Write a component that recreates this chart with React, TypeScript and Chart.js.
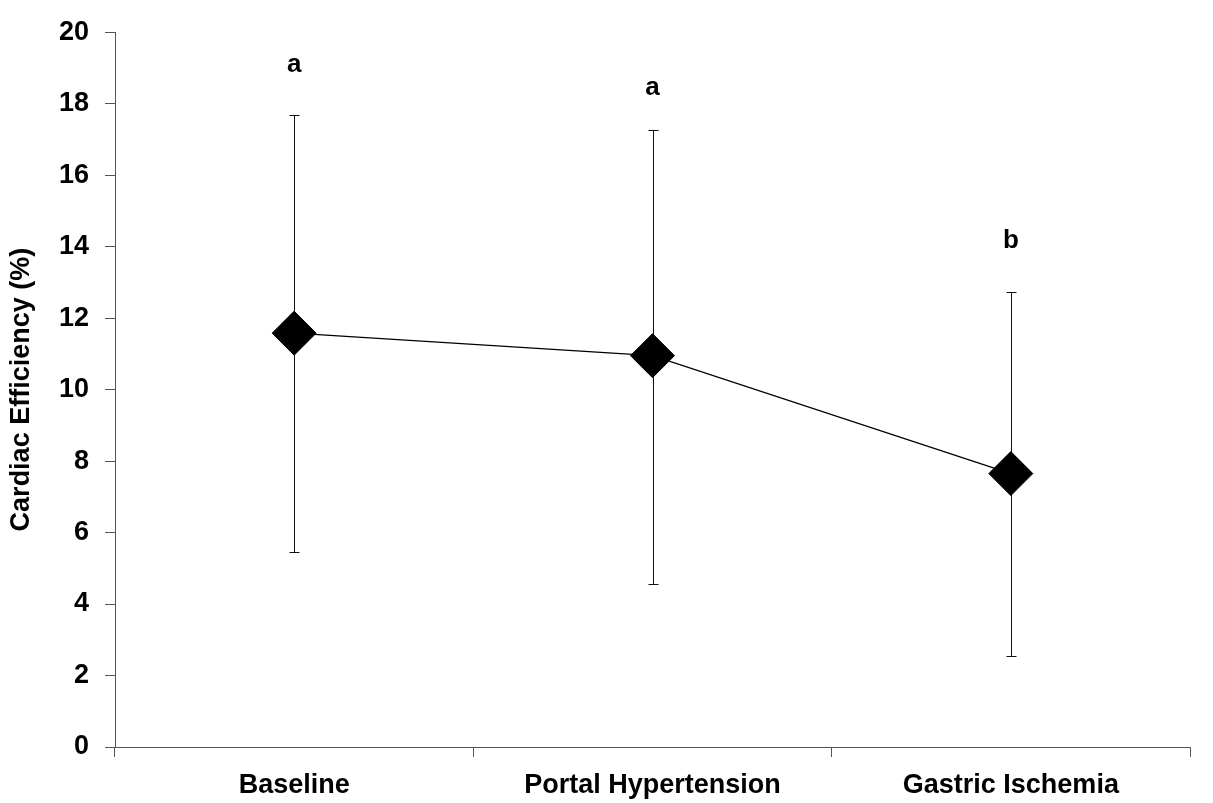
import { useEffect, useRef } from "react";
import { Chart, registerables } from "chart.js";

Chart.register(...registerables);

const categories = ["Baseline", "Portal Hypertension", "Gastric Ischemia"];
const meanValues = [11.58, 10.95, 7.65];
const upperValues = [17.67, 17.25, 12.72];
const lowerValues = [5.47, 4.56, 2.56];
const sigLetters = ["a", "a", "b"];
const sigLetterValues = [19.1, 18.45, 14.15];
const yAxisTitle = "Cardiac Efficiency (%)";

const FONT = '"Liberation Sans", Arial, Helvetica, sans-serif';

const errorBarPlugin = {
  id: "errorBarsAndLetters",
  beforeDatasetsDraw(chart: any) {
    const { ctx, scales } = chart;
    const x = scales.x;
    const y = scales.y;
    ctx.save();
    ctx.strokeStyle = "#111";
    ctx.lineWidth = 1;
    categories.forEach((_, i) => {
      const px = Math.round(x.getPixelForValue(i)) + 0.5;
      const top = Math.round(y.getPixelForValue(upperValues[i])) + 0.5;
      const bot = Math.round(y.getPixelForValue(lowerValues[i])) + 0.5;
      ctx.beginPath();
      ctx.moveTo(px, top);
      ctx.lineTo(px, bot);
      ctx.moveTo(px - 5, top);
      ctx.lineTo(px + 5, top);
      ctx.moveTo(px - 5, bot);
      ctx.lineTo(px + 5, bot);
      ctx.stroke();
    });
    ctx.restore();
  },
  afterDatasetsDraw(chart: any) {
    const { ctx, scales } = chart;
    const x = scales.x;
    const y = scales.y;
    ctx.save();
    ctx.fillStyle = "#000";
    ctx.font = `bold 26px ${FONT}`;
    ctx.textAlign = "center";
    ctx.textBaseline = "middle";
    sigLetters.forEach((t, i) => {
      ctx.fillText(t, x.getPixelForValue(i), y.getPixelForValue(sigLetterValues[i]));
    });
    ctx.restore();
  },
};

export default function App() {
  const ref = useRef<HTMLCanvasElement | null>(null);

  useEffect(() => {
    if (!ref.current) return;
    const chart = new Chart(ref.current, {
      type: "line",
      data: {
        labels: categories,
        datasets: [
          {
            data: meanValues,
            borderColor: "#000",
            borderWidth: 1.3,
            backgroundColor: "#000",
            pointStyle: "rectRot",
            pointRadius: 22,
            pointBorderWidth: 1,
            pointBackgroundColor: "#000",
            pointBorderColor: "#000",
            tension: 0,
          },
        ],
      },
      options: {
        responsive: false,
        animation: false,
        layout: { padding: { left: 0, top: 28, right: -7, bottom: 0 } },
        plugins: {
          legend: { display: false },
          tooltip: { enabled: false },
        },
        scales: {
          x: {
            type: "category",
            offset: true,
            grid: {
              offset: true,
              drawOnChartArea: false,
              drawTicks: true,
              tickLength: 10,
              color: "#555",
            },
            border: { display: true, color: "#555", width: 1 },
            ticks: {
              color: "#000",
              padding: 12,
              maxRotation: 0,
              font: { family: FONT, size: 27, weight: "bold" },
            },
            afterFit: (scale: any) => {
              scale.height = 56;
            },
          },
          y: {
            min: 0,
            max: 20,
            ticks: {
              stepSize: 2,
              color: "#000",
              padding: 16,
              font: { family: FONT, size: 27, weight: "bold" },
            },
            grid: {
              drawOnChartArea: false,
              drawTicks: true,
              tickLength: 10,
              color: "#555",
            },
            border: { display: true, color: "#555", width: 1 },
            title: {
              display: true,
              text: yAxisTitle,
              color: "#000",
              padding: { top: 5, bottom: 0 },
              font: { family: FONT, size: 27, weight: "bold" },
            },
            afterFit: (scale: any) => {
              scale.width = 115;
            },
          },
        },
      },
      plugins: [errorBarPlugin],
    });
    return () => chart.destroy();
  }, []);

  return (
    <div style={{ position: "absolute", left: 0, top: 0, width: 1213, height: 803, background: "#fff" }}>
      <canvas ref={ref} width={1213} height={803} style={{ display: "block" }} />
    </div>
  );
}
